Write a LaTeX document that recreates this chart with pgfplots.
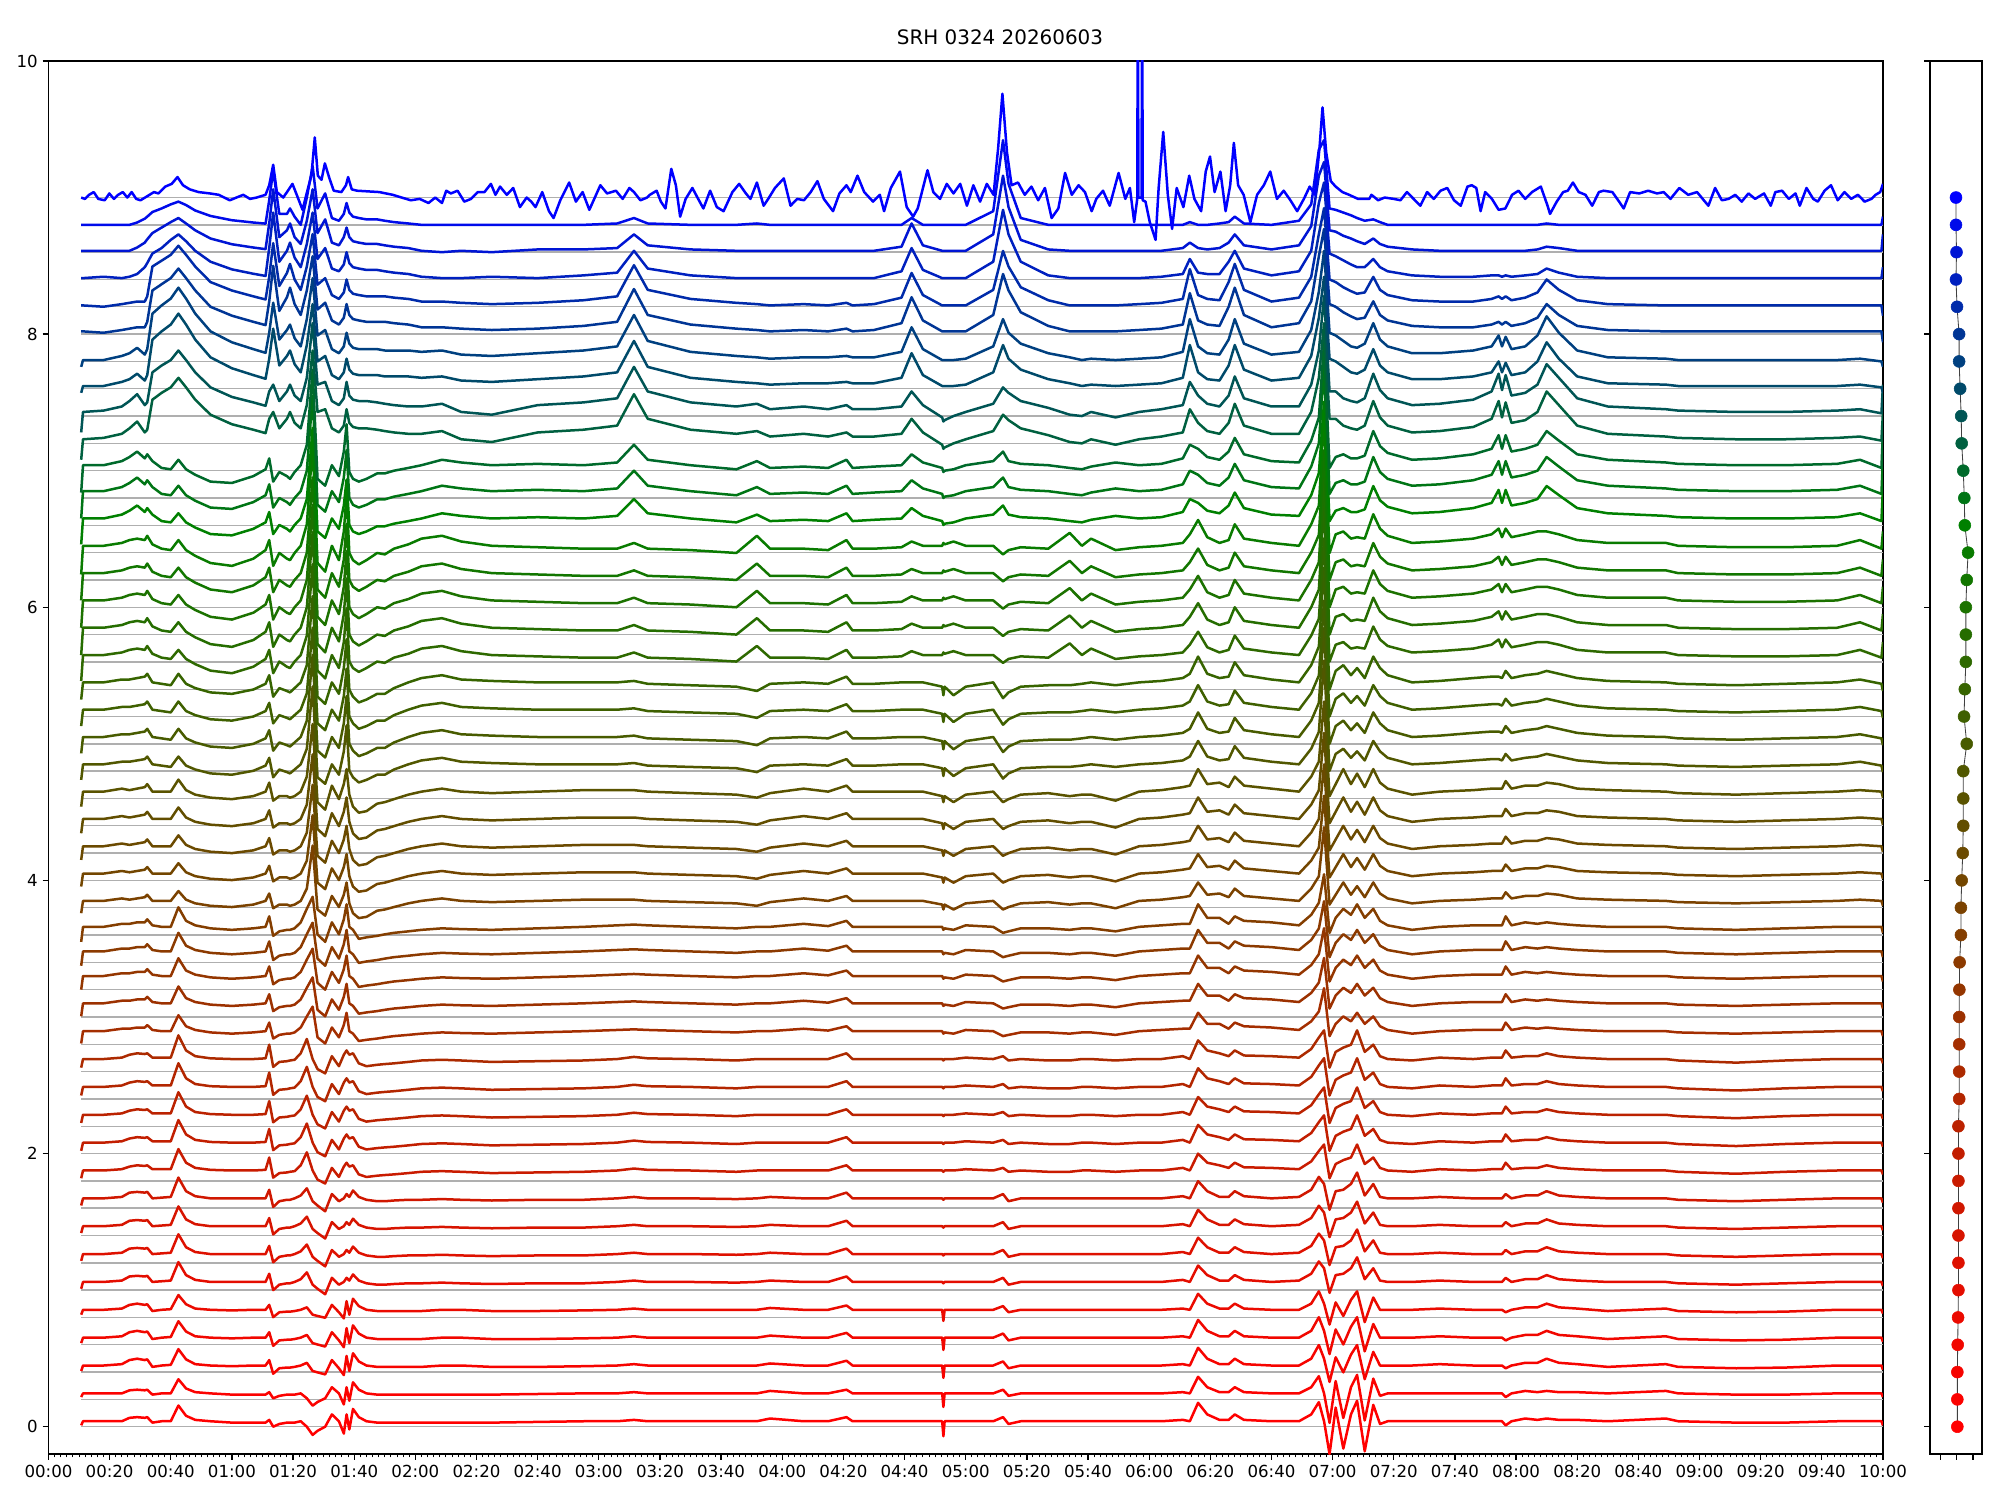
\documentclass[border=0pt]{standalone}
\usepackage{fontspec}
\setmainfont{DejaVu Sans}
\usepackage{pgfplots}
\pgfplotsset{compat=1.18}
\usepackage{pgfplotstable}

\definecolor{gridgray}{RGB}{175,175,175}
\definecolor{tc0}{rgb}{1,0,0}
\definecolor{tc1}{rgb}{0.985,0.008,0}
\definecolor{tc2}{rgb}{0.965,0.017,0}
\definecolor{tc3}{rgb}{0.944,0.028,0}
\definecolor{tc4}{rgb}{0.920,0.040,0}
\definecolor{tc5}{rgb}{0.896,0.052,0}
\definecolor{tc6}{rgb}{0.871,0.065,0}
\definecolor{tc7}{rgb}{0.844,0.078,0}
\definecolor{tc8}{rgb}{0.817,0.091,0}
\definecolor{tc9}{rgb}{0.790,0.105,0}
\definecolor{tc10}{rgb}{0.761,0.119,0}
\definecolor{tc11}{rgb}{0.732,0.134,0}
\definecolor{tc12}{rgb}{0.703,0.149,0}
\definecolor{tc13}{rgb}{0.673,0.163,0}
\definecolor{tc14}{rgb}{0.643,0.179,0}
\definecolor{tc15}{rgb}{0.612,0.194,0}
\definecolor{tc16}{rgb}{0.581,0.210,0}
\definecolor{tc17}{rgb}{0.549,0.226,0}
\definecolor{tc18}{rgb}{0.517,0.242,0}
\definecolor{tc19}{rgb}{0.484,0.258,0}
\definecolor{tc20}{rgb}{0.452,0.274,0}
\definecolor{tc21}{rgb}{0.419,0.291,0}
\definecolor{tc22}{rgb}{0.385,0.307,0}
\definecolor{tc23}{rgb}{0.352,0.324,0}
\definecolor{tc24}{rgb}{0.318,0.341,0}
\definecolor{tc25}{rgb}{0.283,0.358,0}
\definecolor{tc26}{rgb}{0.249,0.376,0}
\definecolor{tc27}{rgb}{0.214,0.393,0}
\definecolor{tc28}{rgb}{0.179,0.411,0}
\definecolor{tc29}{rgb}{0.144,0.428,0}
\definecolor{tc30}{rgb}{0.108,0.446,0}
\definecolor{tc31}{rgb}{0.072,0.464,0}
\definecolor{tc32}{rgb}{0.036,0.482,0}
\definecolor{tc33}{rgb}{0,0.5,0}
\definecolor{tc34}{rgb}{0,0.458,0.083}
\definecolor{tc35}{rgb}{0,0.417,0.167}
\definecolor{tc36}{rgb}{0,0.375,0.25}
\definecolor{tc37}{rgb}{0,0.333,0.333}
\definecolor{tc38}{rgb}{0,0.292,0.417}
\definecolor{tc39}{rgb}{0,0.25,0.5}
\definecolor{tc40}{rgb}{0,0.208,0.583}
\definecolor{tc41}{rgb}{0,0.167,0.667}
\definecolor{tc42}{rgb}{0,0.125,0.75}
\definecolor{tc43}{rgb}{0,0.083,0.833}
\definecolor{tc44}{rgb}{0,0.042,0.917}
\definecolor{tc45}{rgb}{0,0,1}

\pgfplotstableread{
t c0 c1 c2 c3 c4 c5 c6 c7 c8 c9 c10 c11 c12 c13 c14
10.7 -0.03 -0.04 -0.05 -0.06 -0.10 -0.10 -0.12 -0.20 -0.20 -0.15 -0.05 0 0 0 0
11.3 0 0 0 0 0 0 0 0 0 0 0 0 0 0 0
18 0 0 0 0 0 0 0 0 0 0.01 0 -0.01 0.01 0 0
24 0 0.01 0.01 0.01 0.02 0.02 0.02 0.02 0.03 0.04 0.03 0.01 0 0 0
26.5 0.025 0.04 0.04 0.03 0.02 0.01 0.02 0.04 0.06 0.08 0.05 0.02 0.01 0 0
29 0.03 0.05 0.045 0.04 0.03 0.02 0.03 0.05 0.10 0.13 0.09 0.03 0.03 0.024 0.017
31.5 0.025 0.04 0.04 0.035 0.03 0.03 0.04 0.04 0.05 0.05 0.04 0.03 0.08 0.06 0.045
32.3 0.03 0.045 0.045 0.04 0.05 0.05 0.06 0.07 0.08 0.07 0.08 0.07 0.11 0.084 0.06
34 -0.01 -0.01 0 0.01 0.01 0 0 0.01 0.03 0.29 0.34 0.30 0.18 0.13 0.094
37 0 0 0.005 0.01 0 0 -0.01 -0.02 -0.02 0.34 0.40 0.345 0.22 0.17 0.12
40 0 0.005 0.01 0.01 0 0 -0.02 -0.03 -0.03 0.38 0.45 0.39 0.28 0.21 0.15
42.5 0.115 0.12 0.145 0.165 0.13 0.08 0.06 0.04 0.04 0.45 0.53 0.46 0.32 0.24 0.17
45 0.04 0.045 0.05 0.06 0.04 0.01 -0.01 -0.03 -0.03 0.38 0.45 0.39 0.27 0.20 0.145
48 0.01 0.01 0.015 0.02 0.01 -0.02 -0.04 -0.07 -0.07 0.29 0.34 0.30 0.20 0.15 0.105
53 0 0 0 0.005 -0.01 -0.04 -0.07 -0.12 -0.12 0.18 0.21 0.18 0.12 0.09 0.065
60 -0.01 -0.005 0 0 -0.02 -0.05 -0.08 -0.14 -0.13 0.11 0.13 0.115 0.064 0.048 0.034
67 -0.01 0 0 0 -0.01 -0.03 -0.05 -0.09 -0.08 0.07 0.08 0.07 0.032 0.024 0.017
71 -0.01 0 0 0.005 0 0 -0.01 -0.03 -0.03 0.045 0.053 0.046 0.016 0.012 0.009
72.2 0.01 0.04 0.06 0.10 0.07 0.06 0.05 0.04 0.05 0.15 0.20 0.22 0.22 0.20 0.18
73.5 -0.04 -0.06 -0.06 -0.055 -0.06 -0.06 -0.10 -0.14 -0.12 0.20 0.42 0.48 0.48 0.45 0.40
75.5 -0.02 -0.02 -0.02 -0.02 -0.03 -0.03 -0.04 -0.05 -0.05 0.08 0.15 0.15 0.12 0.10 0.08
78 -0.01 -0.015 -0.01 -0.015 -0.02 -0.03 -0.06 -0.09 -0.08 0.15 0.22 0.25 0.20 0.15 0.08
79 -0.01 -0.015 -0.01 -0.01 -0.02 -0.04 -0.07 -0.10 -0.10 0.20 0.26 0.32 0.26 0.20 0.12
80.5 -0.01 -0.01 0 -0.005 -0.01 -0.03 -0.04 -0.05 -0.05 0.12 0.16 0.20 0.15 0.10 0.06
82.5 0 0 0.02 0.04 0.03 0 0 0 0 0.08 0.10 0.12 0.08 0.05 0
84.5 -0.04 0.02 0.07 0.14 0.12 0.10 0.12 0.15 0.15 0.25 0.30 0.30 0.25 0.22 0.20
86.4 -0.10 -0.04 -0.02 0 0.20 0.45 0.60 0.70 0.70 0.65 0.60 0.55 0.48 0.45 0.43
88 -0.07 -0.05 -0.05 -0.07 -0.05 -0.07 -0.10 -0.12 -0.10 0.20 0.18 0.16 0.14 0.13 0.12
90.5 -0.04 -0.065 -0.09 -0.10 -0.10 -0.12 -0.15 -0.18 -0.15 0.22 0.22 0.21 0.22 0.23 0.23
92.7 0.05 0.04 0.03 0.02 0.03 0.04 0 0 0 0.08 0.08 0.08 0.07 0.06 0.05
95 0 -0.02 -0.02 -0.05 -0.05 -0.05 -0.08 -0.10 -0.08 0.05 0.05 0.05 0.05 0.04 0.03
96.6 -0.09 -0.07 0 0.03 0.05 0.05 0.10 0.10 0.10 0.10 0.10 0.10 0.10 0.10 0.08
97.5 0.05 0.07 0.03 0.06 0.15 0.15 0.30 0.36 0.30 0.22 0.20 0.20 0.19 0.17 0.16
98.4 -0.06 -0.04 0.01 0.03 0 -0.02 -0.05 -0.05 -0.05 0.12 0.12 0.12 0.11 0.10 0.09
99.6 0.09 0.09 0.055 0.04 -0.02 -0.10 -0.10 -0.10 -0.10 0.09 0.09 0.09 0.08 0.07 0.06
101.5 0.03 0.03 0.01 -0.03 -0.08 -0.14 -0.14 -0.13 -0.12 0.08 0.08 0.08 0.07 0.06 0.05
104 0 0 -0.01 -0.05 -0.07 -0.13 -0.12 -0.10 -0.10 0.08 0.08 0.07 0.06 0.05 0.04
107.5 -0.01 -0.01 -0.02 -0.04 -0.06 -0.08 -0.08 -0.05 -0.06 0.07 0.08 0.07 0.06 0.05 0.04
110 -0.01 -0.01 -0.02 -0.035 -0.05 -0.07 -0.08 -0.06 -0.06 0.06 0.07 0.07 0.05 0.04 0.03
113 -0.01 -0.01 -0.015 -0.03 -0.04 -0.05 -0.04 -0.02 -0.04 0.05 0.07 0.06 0.04 0.03 0.02
117.7 -0.01 -0.01 -0.01 -0.02 -0.03 -0.02 0 0.01 -0.02 0.04 0.07 0.05 0.03 0.02 0.01
122 -0.01 -0.01 -0.01 -0.01 -0.02 0 0.03 0.05 0 0.04 0.06 0.03 0.01 0 0
128.7 -0.01 0 -0.005 -0.005 -0.01 0.02 0.05 0.07 0.04 0.06 0.07 0.03 0 -0.01 0
135 -0.01 0 -0.01 -0.01 -0.015 0 0.02 0.03 0.02 0 0.04 0.02 0 0 0
145 -0.01 -0.01 -0.015 -0.02 -0.02 -0.01 0.01 0 0 -0.02 0.03 0.01 0.01 -0.01 0
160 -0.005 -0.01 -0.01 -0.015 -0.01 0 0 -0.01 0.01 0.05 0.05 0.02 0 0.01 0
175 0 -0.005 -0.01 -0.01 0 0.01 0 -0.02 0 0.07 0.07 0.04 0.02 0.01 0
186 0 0 0 0 0.01 0.01 0 -0.02 0.02 0.10 0.10 0.07 0.04 0.02 0.01
191.5 0.01 0.01 0.01 0.015 0.015 0.01 0.01 0.02 0.15 0.33 0.33 0.31 0.20 0.12 0.05
196 0 0 0 0.005 0.01 0 -0.01 -0.02 0.04 0.15 0.14 0.12 0.07 0.04 0.01
210 0 0 0 0 0 -0.01 -0.02 -0.03 0 0.07 0.06 0.05 0.02 0.01 0
225 0 0 -0.005 -0.01 -0.01 -0.02 -0.03 -0.05 -0.03 0.04 0.03 0.02 0 0 0
231.7 0 0 0 0 0 -0.04 -0.06 0.07 0.03 0.06 0.02 0.01 0 0 0.01
236 0.02 0.015 0.01 0 0 -0.01 -0.01 -0.02 -0.02 0.02 0.01 0 0 0 0
247 0 0 0 0 0.02 0.02 0 -0.02 -0.01 0.04 0.02 0.01 0 0 0
255 0 0 0 0 0.005 0 -0.01 -0.03 -0.02 0.02 0.02 0 0 0 0
261 0.03 0.035 0.04 0.04 0.04 0.04 0.04 0.04 0.04 0.05 0.03 0.02 0 0 0
263 0 0 0 0 0 0 -0.01 -0.02 -0.02 0.02 0.02 0 0 0 0
270 0 0 0 0 0 0 -0.01 -0.02 -0.01 0.02 0.02 0.01 0 0 0
279 0 0 0 0 0 0 0 -0.01 0 0.04 0.06 0.06 0.05 0.03 0
282.3 0 0 0 0 0 0 0 0.03 0.08 0.15 0.24 0.25 0.22 0.20 0.05
286 0 0 0 0 0 0 0 0 0.02 0.05 0.08 0.08 0.06 0.04 0
292.3 0 0 0 0 0 -0.03 -0.03 0 -0.02 -0.04 0 0 0 0 0
292.7 -0.11 -0.09 -0.01 -0.01 -0.02 -0.07 -0.09 0.02 -0.05 -0.07 0 0 0 0 0
293.1 0 0 0 0 -0.01 -0.03 -0.03 0.01 -0.04 -0.06 0 0 0 0 0
296 0 0 0 0 -0.02 -0.07 -0.09 0.03 -0.03 -0.03 0 0 0 0 0
300 0 0 0 0.01 0.01 -0.02 -0.03 0 0 0 0.01 0 0 0 0
309 0 0 0 0 0 0 0 0 0.03 0.06 0.10 0.12 0.12 0.12 0.10
312.2 0.03 0.03 0.03 0.02 -0.04 -0.07 -0.11 -0.06 0.10 0.18 0.30 0.42 0.50 0.55 0.62
314 -0.02 -0.02 -0.02 -0.01 -0.03 -0.05 -0.07 -0.03 0.03 0.14 0.20 0.30 0.32 0.32 0.30
318 0 0 0 0 -0.01 -0.02 -0.03 -0.01 0.01 0.08 0.12 0.14 0.12 0.08 0.05
327 0 0 0 -0.01 -0.01 -0.01 -0.02 -0.02 0 0.03 0.05 0.04 0.02 0.01 0
334 0 0 0 -0.01 -0.02 -0.03 -0.02 0.09 -0.02 -0.02 0.02 0 0 0 0
338 0 0 0 0 -0.01 -0.02 -0.01 0 -0.03 -0.03 0 0 0 0 0
341 0 0 0 0 -0.01 -0.02 0 0.05 -0.01 0 0.01 0 0 0 0
349 0 0 0 -0.01 -0.03 -0.06 -0.02 -0.03 0.02 -0.04 0 0 0 0 0
356.7 0 0 0 0 0 0 0 -0.01 0 0 0.01 0.01 0 0 0
364 0 0 0 0 0.01 0.01 0.01 0 0.01 0.02 0.02 0.02 0.01 0 0
371 0.01 0.01 0.015 0.02 0.02 0.03 0.03 0.02 0.05 0.05 0.06 0.05 0.03 0.02 0
373.3 0 0 0 0 0.02 0.04 0.06 0.08 0.15 0.22 0.30 0.28 0.14 0.06 0.02
376 0.135 0.13 0.12 0.13 0.15 0.15 0.18 0.18 0.12 0.12 0.10 0.08 0.04 0.02 0
379 0.05 0.05 0.05 0.06 0.06 0.05 0.06 0.06 0.06 0.06 0.05 0.05 0.03 0.01 0
383 0.01 0.01 0.01 0.04 0.06 0.06 0.03 0.02 0.04 0.04 0.04 0.04 0.03 0.02 0.01
386 0.01 0.01 0.01 0.02 0.02 0.03 0.04 0.04 0.10 0.12 0.15 0.18 0.12 0.06 0.02
388 0.05 0.05 0.05 0.06 0.07 0.10 0.14 0.15 0.20 0.26 0.30 0.32 0.20 0.12 0.06
391 0.01 0.01 0.015 0.025 0.04 0.04 0.05 0.05 0.08 0.10 0.12 0.12 0.07 0.04 0.01
400 0 0 0 0.02 0.03 0.02 0.02 0.02 0.03 0.04 0.04 0.03 0.02 0.01 0
409 0 0 0.01 0.01 0.01 0 0 0 0.02 0.04 0.06 0.06 0.05 0.04 0.03
413 0.05 0.05 0.06 0.07 0.08 0.10 0.12 0.15 0.18 0.20 0.22 0.22 0.20 0.18 0.15
415.5 0.14 0.15 0.15 0.15 0.16 0.20 0.25 0.28 0.35 0.45 0.50 0.55 0.55 0.55 0.55
417.2 0 0.05 0.10 0.20 0.35 0.60 0.80 0.90 0.90 0.85 0.80 0.75 0.70 0.65 0.62
419 -0.24 -0.12 -0.08 -0.06 -0.04 -0.03 -0.05 -0.05 -0.02 0.15 0.20 0.20 0.18 0.15 0.12
421 0.10 0.06 0.05 0.05 0.06 0.05 0.08 0.08 0.06 0.15 0.18 0.18 0.16 0.14 0.11
423.5 -0.20 -0.05 0.06 0.08 0.12 0.15 0.12 0.10 0.08 0.10 0.14 0.14 0.13 0.11 0.09
426 0.05 0.08 0.10 0.10 0.08 0.05 0.05 0.05 0.05 0.08 0.10 0.11 0.10 0.09 0.07
428 0.15 0.15 0.18 0.20 0.15 0.12 0.10 0.06 0.05 0.07 0.09 0.09 0.08 0.07 0.05
430.5 -0.22 -0.10 0.02 0.05 0.06 0.03 0.03 0.05 0.07 0.10 0.12 0.10 0.08 0.05 0.03
433.3 0.12 0.10 0.10 0.10 0.12 0.15 0.18 0.22 0.25 0.28 0.27 0.22 0.14 0.09 0.04
435.5 -0.02 0 0.01 0.02 0.04 0.06 0.10 0.12 0.14 0.16 0.15 0.12 0.08 0.05 0.02
438 0 0 0 0 0.01 0.02 0.05 0.07 0.09 0.10 0.10 0.08 0.05 0.03 0
446 0 0 0 -0.01 -0.02 -0.02 0 0.02 0.04 0.05 0.05 0.04 0.02 0.01 0
455 0 0.01 0.01 0.01 0 0 0.01 0.03 0.05 0.06 0.05 0.03 0.01 0 0
466 0 0 0 0 0.01 0.01 0.03 0.05 0.08 0.09 0.07 0.03 0.01 0 0
472 0 0 0 0.01 0.01 0.02 0.04 0.08 0.12 0.15 0.10 0.05 0.02 0 0
474.3 0 0 0 0.01 0.01 0.02 0.04 0.12 0.22 0.28 0.18 0.07 0.02 0 0
475.4 0 0 0 0.01 0.01 0.02 0.03 0.06 0.12 0.16 0.10 0.05 0.01 0 0
476.6 -0.03 -0.02 0.03 0.06 0.07 0.07 0.08 0.12 0.22 0.27 0.17 0.07 0.02 0 0
478.5 0 0 0 0.01 0.01 0.02 0.03 0.06 0.10 0.12 0.08 0.04 0.01 0 0
483 0.02 0.02 0.02 0.02 0.03 0.04 0.05 0.08 0.12 0.14 0.10 0.06 0.02 0 0
487 0.01 0.02 0.02 0.02 0.02 0.04 0.06 0.10 0.15 0.20 0.18 0.10 0.03 0.01 0
490 0.02 0.05 0.05 0.04 0.03 0.06 0.08 0.10 0.25 0.35 0.32 0.20 0.07 0.03 0.01
494 0.01 0.02 0.02 0.02 0.02 0.05 0.06 0.08 0.18 0.25 0.20 0.12 0.04 0.02 0
500 0.01 0.01 0.01 0.01 0.01 0.02 0.03 0.04 0.08 0.10 0.07 0.04 0.01 0 0
510 0 -0.01 0 0 0 0.01 0.01 0.02 0.04 0.04 0.02 0.01 0 0 0
529 0.02 0.01 0 0 0 0 0 0.02 0.02 0.02 0.01 0 0 0 0
533 0 -0.01 -0.01 -0.01 -0.01 -0.01 -0.01 0 0.01 0.01 0 0 0 0 0
552 -0.01 -0.02 -0.02 -0.025 -0.02 -0.02 -0.02 -0.01 0 0 0 0 0 0 0
568 -0.01 -0.015 -0.01 -0.01 -0.01 -0.01 -0.01 -0.01 0 0 0 0 0 0 0
585 0 0 0 0 0 0 0 0 0.01 0.01 0 0 0 0 0
592.5 0 0 0 0 0 0.01 0.02 0.04 0.04 0.02 0.01 0 0 0 0
599.5 0 0 0 0 0 0 -0.01 -0.02 -0.02 -0.01 -0.01 0 0 0 0
600 -0.03 -0.03 -0.03 -0.03 -0.04 -0.04 -0.06 0.10 0.25 0.20 -0.05 -0.08 0.08 0.12 0.06
}\shapes

\begin{document}
\begin{tikzpicture}
\useasboundingbox (0,0) rectangle (1440bp,1080bp);
\begin{axis}[
  at={(34.9bp,33.1bp)}, anchor=south west,
  scale only axis, width=1320.9bp, height=1003bp,
  xmin=0, xmax=600, ymin=-0.2, ymax=10,
  xtick={0,20,...,600},
  xticklabels={00:00,00:20,00:40,01:00,01:20,01:40,02:00,02:20,02:40,03:00,03:20,03:40,04:00,04:20,04:40,05:00,05:20,05:40,06:00,06:20,06:40,07:00,07:20,07:40,08:00,08:20,08:40,09:00,09:20,09:40,10:00},
  minor x tick num=9,
  ytick={0,2,4,6,8,10},
  /pgf/number format/assume math mode=true,
  tick align=outside, tick pos=left,
  major tick length=4.2bp, minor tick length=2.4bp,
  every tick/.style={black, line width=0.96bp},
  minor tick style={line width=0.72bp},
  axis line style={line width=0.96bp},
  ticklabel style={font=\fontsize{12}{14}\selectfont},
  no markers,
  every axis plot/.append style={line join=round},
]
% horizontal reference lines
\addplot[gridgray, line width=1bp] coordinates {(10.7,0) (600,0)};
\addplot[gridgray, line width=1bp] coordinates {(10.7,0.2) (600,0.2)};
\addplot[gridgray, line width=1bp] coordinates {(10.7,0.4) (600,0.4)};
\addplot[gridgray, line width=1bp] coordinates {(10.7,0.6) (600,0.6)};
\addplot[gridgray, line width=1bp] coordinates {(10.7,0.8) (600,0.8)};
\addplot[gridgray, line width=1bp] coordinates {(10.7,1.0) (600,1.0)};
\addplot[gridgray, line width=1bp] coordinates {(10.7,1.2) (600,1.2)};
\addplot[gridgray, line width=1bp] coordinates {(10.7,1.4) (600,1.4)};
\addplot[gridgray, line width=1bp] coordinates {(10.7,1.6) (600,1.6)};
\addplot[gridgray, line width=1bp] coordinates {(10.7,1.8) (600,1.8)};
\addplot[gridgray, line width=1bp] coordinates {(10.7,2.0) (600,2.0)};
\addplot[gridgray, line width=1bp] coordinates {(10.7,2.2) (600,2.2)};
\addplot[gridgray, line width=1bp] coordinates {(10.7,2.4) (600,2.4)};
\addplot[gridgray, line width=1bp] coordinates {(10.7,2.6) (600,2.6)};
\addplot[gridgray, line width=1bp] coordinates {(10.7,2.8) (600,2.8)};
\addplot[gridgray, line width=1bp] coordinates {(10.7,3.0) (600,3.0)};
\addplot[gridgray, line width=1bp] coordinates {(10.7,3.2) (600,3.2)};
\addplot[gridgray, line width=1bp] coordinates {(10.7,3.4) (600,3.4)};
\addplot[gridgray, line width=1bp] coordinates {(10.7,3.6) (600,3.6)};
\addplot[gridgray, line width=1bp] coordinates {(10.7,3.8) (600,3.8)};
\addplot[gridgray, line width=1bp] coordinates {(10.7,4.0) (600,4.0)};
\addplot[gridgray, line width=1bp] coordinates {(10.7,4.2) (600,4.2)};
\addplot[gridgray, line width=1bp] coordinates {(10.7,4.4) (600,4.4)};
\addplot[gridgray, line width=1bp] coordinates {(10.7,4.6) (600,4.6)};
\addplot[gridgray, line width=1bp] coordinates {(10.7,4.8) (600,4.8)};
\addplot[gridgray, line width=1bp] coordinates {(10.7,5.0) (600,5.0)};
\addplot[gridgray, line width=1bp] coordinates {(10.7,5.2) (600,5.2)};
\addplot[gridgray, line width=1bp] coordinates {(10.7,5.4) (600,5.4)};
\addplot[gridgray, line width=1bp] coordinates {(10.7,5.6) (600,5.6)};
\addplot[gridgray, line width=1bp] coordinates {(10.7,5.8) (600,5.8)};
\addplot[gridgray, line width=1bp] coordinates {(10.7,6.0) (600,6.0)};
\addplot[gridgray, line width=1bp] coordinates {(10.7,6.2) (600,6.2)};
\addplot[gridgray, line width=1bp] coordinates {(10.7,6.4) (600,6.4)};
\addplot[gridgray, line width=1bp] coordinates {(10.7,6.6) (600,6.6)};
\addplot[gridgray, line width=1bp] coordinates {(10.7,6.8) (600,6.8)};
\addplot[gridgray, line width=1bp] coordinates {(10.7,7.0) (600,7.0)};
\addplot[gridgray, line width=1bp] coordinates {(10.7,7.2) (600,7.2)};
\addplot[gridgray, line width=1bp] coordinates {(10.7,7.4) (600,7.4)};
\addplot[gridgray, line width=1bp] coordinates {(10.7,7.6) (600,7.6)};
\addplot[gridgray, line width=1bp] coordinates {(10.7,7.8) (600,7.8)};
\addplot[gridgray, line width=1bp] coordinates {(10.7,8.0) (600,8.0)};
\addplot[gridgray, line width=1bp] coordinates {(10.7,8.2) (600,8.2)};
\addplot[gridgray, line width=1bp] coordinates {(10.7,8.4) (600,8.4)};
\addplot[gridgray, line width=1bp] coordinates {(10.7,8.6) (600,8.6)};
\addplot[gridgray, line width=1bp] coordinates {(10.7,8.8) (600,8.8)};
\addplot[gridgray, line width=1bp] coordinates {(10.7,9.0) (600,9.0)};
% traces
\addplot[tc0, line width=1.8bp] table[x=t, y expr=\thisrow{c0}*1.0+0.04] {\shapes};
\addplot[tc1, line width=1.8bp] table[x=t, y expr=\thisrow{c0}*0.9+0.244] {\shapes};
\addplot[tc2, line width=1.8bp] table[x=t, y expr=\thisrow{c1}*1.0+0.448] {\shapes};
\addplot[tc3, line width=1.8bp] table[x=t, y expr=\thisrow{c1}*1.0+0.652] {\shapes};
\addplot[tc4, line width=1.8bp] table[x=t, y expr=\thisrow{c1}*0.9+0.856] {\shapes};
\addplot[tc5, line width=1.8bp] table[x=t, y expr=\thisrow{c2}*1.0+1.06] {\shapes};
\addplot[tc6, line width=1.8bp] table[x=t, y expr=\thisrow{c2}*1.0+1.264] {\shapes};
\addplot[tc7, line width=1.8bp] table[x=t, y expr=\thisrow{c2}*1.0+1.468] {\shapes};
\addplot[tc8, line width=1.8bp] table[x=t, y expr=\thisrow{c2}*1.05+1.672] {\shapes};
\addplot[tc9, line width=1.8bp] table[x=t, y expr=\thisrow{c3}*0.95+1.876] {\shapes};
\addplot[tc10, line width=1.8bp] table[x=t, y expr=\thisrow{c3}*1.0+2.08] {\shapes};
\addplot[tc11, line width=1.8bp] table[x=t, y expr=\thisrow{c3}*1.0+2.284] {\shapes};
\addplot[tc12, line width=1.8bp] table[x=t, y expr=\thisrow{c3}*1.05+2.488] {\shapes};
\addplot[tc13, line width=1.8bp] table[x=t, y expr=\thisrow{c3}*1.05+2.692] {\shapes};
\addplot[tc14, line width=1.8bp] table[x=t, y expr=\thisrow{c4}*0.9+2.896] {\shapes};
\addplot[tc15, line width=1.8bp] table[x=t, y expr=\thisrow{c4}*0.95+3.10] {\shapes};
\addplot[tc16, line width=1.8bp] table[x=t, y expr=\thisrow{c4}*1.0+3.30] {\shapes};
\addplot[tc17, line width=1.8bp] table[x=t, y expr=\thisrow{c4}*1.05+3.48] {\shapes};
\addplot[tc18, line width=1.8bp] table[x=t, y expr=\thisrow{c4}*1.1+3.66] {\shapes};
\addplot[tc19, line width=1.8bp] table[x=t, y expr=\thisrow{c5}*0.9+3.85] {\shapes};
\addplot[tc20, line width=1.8bp] table[x=t, y expr=\thisrow{c5}*0.95+4.05] {\shapes};
\addplot[tc21, line width=1.8bp] table[x=t, y expr=\thisrow{c5}*1.0+4.25] {\shapes};
\addplot[tc22, line width=1.8bp] table[x=t, y expr=\thisrow{c5}*1.05+4.45] {\shapes};
\addplot[tc23, line width=1.8bp] table[x=t, y expr=\thisrow{c5}*1.1+4.65] {\shapes};
\addplot[tc24, line width=1.8bp] table[x=t, y expr=\thisrow{c6}*0.95+4.85] {\shapes};
\addplot[tc25, line width=1.8bp] table[x=t, y expr=\thisrow{c6}*1.0+5.05] {\shapes};
\addplot[tc26, line width=1.8bp] table[x=t, y expr=\thisrow{c6}*1.0+5.25] {\shapes};
\addplot[tc27, line width=1.8bp] table[x=t, y expr=\thisrow{c6}*1.05+5.45] {\shapes};
\addplot[tc28, line width=1.8bp] table[x=t, y expr=\thisrow{c7}*0.95+5.65] {\shapes};
\addplot[tc29, line width=1.8bp] table[x=t, y expr=\thisrow{c7}*1.0+5.85] {\shapes};
\addplot[tc30, line width=1.8bp] table[x=t, y expr=\thisrow{c7}*1.0+6.05] {\shapes};
\addplot[tc31, line width=1.8bp] table[x=t, y expr=\thisrow{c7}*1.0+6.25] {\shapes};
\addplot[tc32, line width=1.8bp] table[x=t, y expr=\thisrow{c7}*1.05+6.45] {\shapes};
\addplot[tc33, line width=1.8bp] table[x=t, y expr=\thisrow{c8}*0.95+6.65] {\shapes};
\addplot[tc34, line width=1.8bp] table[x=t, y expr=\thisrow{c8}*1.0+6.85] {\shapes};
\addplot[tc35, line width=1.8bp] table[x=t, y expr=\thisrow{c8}*1.0+7.04] {\shapes};
\addplot[tc36, line width=1.8bp] table[x=t, y expr=\thisrow{c9}*1.0+7.23] {\shapes};
\addplot[tc37, line width=1.8bp] table[x=t, y expr=\thisrow{c9}*1.0+7.43] {\shapes};
\addplot[tc38, line width=1.8bp] table[x=t, y expr=\thisrow{c10}*1.0+7.62] {\shapes};
\addplot[tc39, line width=1.8bp] table[x=t, y expr=\thisrow{c10}*1.0+7.81] {\shapes};
\addplot[tc40, line width=1.8bp] table[x=t, y expr=\thisrow{c11}*1.0+8.02] {\shapes};
\addplot[tc41, line width=1.8bp] table[x=t, y expr=\thisrow{c11}*0.95+8.21] {\shapes};
\addplot[tc42, line width=1.8bp] table[x=t, y expr=\thisrow{c12}*1.0+8.41] {\shapes};
\addplot[tc43, line width=1.8bp] table[x=t, y expr=\thisrow{c13}*1.0+8.61] {\shapes};
\addplot[tc44, line width=1.8bp] table[x=t, y expr=\thisrow{c14}*1.0+8.80] {\shapes};
% top trace (9.0)
\addplot[tc45, line width=1.8bp] coordinates {
(10.7,9.00)(11.9,8.99)(13.3,9.02)(14.8,9.04)(16.3,8.99)(18.4,8.98)(19.9,9.03)(21.4,8.99)(22.8,9.02)(24.3,9.04)
(25.8,9.00)(27.2,9.04)(28.7,8.99)(30.1,8.98)(31.6,9.00)(34.5,9.04)(36.0,9.03)(38.2,9.08)(40.3,9.10)(42.2,9.15)
(44.0,9.09)(46.2,9.06)(49.1,9.04)(52.8,9.03)(55.7,9.02)(59.3,8.98)(61.5,9.00)(63.7,9.02)(65.9,8.99)(68.1,9.00)
(71.0,9.02)(72.2,9.09)(73.5,9.24)(74.7,9.04)(76.8,9.00)(79.8,9.10)(81.2,9.02)(83.1,8.91)(84.9,9.07)(86.0,9.16)
(87.1,9.44)(88.1,9.16)(89.3,9.13)(90.4,9.25)(91.9,9.14)(93.3,9.05)(95.8,9.04)(97.3,9.09)(98.0,9.15)(99.2,9.06)
(100.9,9.05)(108.2,9.04)(112.6,9.02)(115.5,9.00)(118.5,8.98)(121.4,8.99)(124.3,8.96)(126.5,9.00)(128.7,8.96)(130.1,9.05)
(131.6,9.03)(133.8,9.05)(136.0,8.97)(138.2,8.99)(140.4,9.04)(142.6,9.04)(144.7,9.10)(146.2,9.02)(147.7,9.08)(149.9,9.02)
(152.0,9.07)(154.2,8.93)(156.4,9.00)(157.9,8.97)(159.3,8.93)(161.5,9.04)(163.7,8.90)(165.2,8.85)(167.4,8.98)(170.3,9.11)
(172.5,8.97)(174.7,9.04)(176.9,8.91)(179.1,9.02)(180.5,9.09)(182.7,9.03)(185.6,9.05)(187.8,8.99)(190.0,9.07)(191.5,9.04)
(193.6,8.98)(195.8,9.00)(196.7,9.02)(198.9,9.05)(200.3,8.97)(201.8,8.92)(203.7,9.21)(205.2,9.09)(206.6,8.86)(208.4,8.99)
(210.6,9.07)(212.5,8.99)(214.2,8.92)(216.4,9.05)(218.6,8.93)(220.8,8.90)(223.7,9.04)(225.9,9.10)(228.1,9.03)(229.6,8.99)
(231.7,9.11)(233.9,8.94)(235.4,8.99)(237.6,9.07)(240.5,9.14)(242.7,8.94)(244.9,8.99)(247.1,8.98)(249.3,9.04)(251.5,9.12)
(253.6,8.99)(256.6,8.90)(258.7,9.03)(261.0,9.09)(262.4,9.04)(264.6,9.16)(266.8,9.04)(269.7,8.97)(271.9,9.02)(273.3,8.90)
(275.5,9.07)(278.5,9.19)(280.7,8.93)(282.8,8.86)(284.3,8.92)(287.5,9.20)(289.4,9.04)(291.6,8.99)(293.8,9.10)(296.0,9.03)
(298.2,9.10)(300.4,8.94)(302.5,9.09)(304.7,8.97)(306.9,9.10)(309.1,9.02)(310.6,9.36)(312.0,9.76)(313.5,9.33)(315.0,9.09)
(317.1,9.11)(319.3,9.02)(321.5,9.08)(323.7,8.98)(325.9,9.07)(328.1,8.85)(330.3,8.92)(332.5,9.18)(334.7,9.02)(336.9,9.09)
(339.0,9.04)(341.2,8.90)(342.7,8.99)(344.9,9.05)(347.1,8.94)(350.0,9.18)(352.2,8.99)(353.7,9.07)(355.1,8.82)(356.1,8.99)
(356.3,10.6)(356.5,9.00)(357.5,9.00)(357.7,10.6)(357.9,8.98)(358.8,8.97)(360.2,8.82)(362.1,8.69)(363.1,9.07)(364.6,9.48)
(366.1,9.02)(367.5,8.77)(369.0,9.07)(371.2,8.93)(373.1,9.16)(374.8,8.99)(377.0,8.90)(378.5,9.19)(379.9,9.30)(381.4,9.04)
(383.3,9.19)(385.0,8.90)(386.5,9.09)(387.7,9.40)(389.1,9.09)(390.9,9.02)(393.1,8.82)(395.3,9.02)(397.5,9.09)(399.6,9.19)
(401.8,8.99)(404.0,9.05)(406.2,8.98)(408.4,8.90)(410.6,8.99)(412.5,9.08)(414.2,9.02)(415.7,9.36)(416.7,9.66)(417.9,9.33)
(419.4,9.12)(421.0,9.08)(423.2,9.04)(425.4,9.02)(428.3,8.99)(432.0,8.99)(432.7,9.02)(434.9,8.98)(437.0,9.00)(440.0,8.99)
(442.2,8.98)(444.3,9.04)(446.5,8.99)(448.7,8.94)(450.9,9.04)(453.1,8.99)(455.3,9.05)(457.5,9.07)(459.7,8.98)(461.9,8.94)
(464.1,9.08)(465.5,9.09)(467.0,9.07)(468.4,8.90)(469.9,9.04)(472.1,8.99)(474.3,8.91)(476.5,8.92)(478.7,9.02)(480.8,9.05)
(483.0,8.99)(485.2,9.04)(488.1,9.08)(490.3,8.94)(491.1,8.88)(493.3,8.97)(495.4,9.04)(496.9,9.05)(498.6,9.11)(500.5,9.04)
(502.7,9.02)(504.9,8.94)(507.1,9.04)(508.6,9.05)(511.5,9.04)(513.7,8.97)(515.2,8.92)(517.3,9.04)(520.3,9.03)(523.2,9.05)
(526.1,9.03)(528.3,9.04)(530.5,8.99)(533.4,9.07)(536.3,9.02)(539.2,9.04)(541.4,8.98)(542.9,8.94)(545.1,9.07)(547.3,8.98)
(549.5,8.99)(551.7,9.02)(553.8,8.97)(556.0,9.03)(558.2,8.99)(561.1,9.03)(563.3,8.94)(564.8,9.04)(567.0,9.05)(569.2,8.99)
(571.4,9.03)(572.8,8.94)(575.0,9.07)(577.2,8.99)(578.7,8.97)(580.9,9.05)(583.0,9.09)(585.2,8.98)(587.4,9.04)(589.6,8.99)
(591.8,9.02)(594.0,8.97)(596.2,8.99)(597.6,9.02)(599.1,9.04)(600,9.10)
};
\end{axis}

% right panel
\begin{axis}[
  at={(1389.6bp,33.1bp)}, anchor=south west,
  scale only axis, width=37.4bp, height=1003bp,
  xmin=0, xmax=1, ymin=-0.2, ymax=10,
  xtick={0.2,0.515,0.825}, xticklabels={},
  ytick={0,2,4,6,8,10}, yticklabels={},
  tick align=outside, tick pos=left,
  major tick length=4.2bp,
  every tick/.style={black, line width=0.96bp},
  axis line style={line width=0.96bp},
]
\addplot[only marks, mark=*, mark size=4.3bp, tc0] coordinates {(0.526,0)};
\addplot[only marks, mark=*, mark size=4.3bp, tc1] coordinates {(0.526,0.2)};
\addplot[only marks, mark=*, mark size=4.3bp, tc2] coordinates {(0.526,0.4)};
\addplot[only marks, mark=*, mark size=4.3bp, tc3] coordinates {(0.533,0.6)};
\addplot[only marks, mark=*, mark size=4.3bp, tc4] coordinates {(0.54,0.8)};
\addplot[only marks, mark=*, mark size=4.3bp, tc5] coordinates {(0.547,1.0)};
\addplot[only marks, mark=*, mark size=4.3bp, tc6] coordinates {(0.547,1.2)};
\addplot[only marks, mark=*, mark size=4.3bp, tc7] coordinates {(0.547,1.4)};
\addplot[only marks, mark=*, mark size=4.3bp, tc8] coordinates {(0.547,1.6)};
\addplot[only marks, mark=*, mark size=4.3bp, tc9] coordinates {(0.547,1.8)};
\addplot[only marks, mark=*, mark size=4.3bp, tc10] coordinates {(0.547,2.0)};
\addplot[only marks, mark=*, mark size=4.3bp, tc11] coordinates {(0.547,2.2)};
\addplot[only marks, mark=*, mark size=4.3bp, tc12] coordinates {(0.562,2.4)};
\addplot[only marks, mark=*, mark size=4.3bp, tc13] coordinates {(0.562,2.6)};
\addplot[only marks, mark=*, mark size=4.3bp, tc14] coordinates {(0.562,2.8)};
\addplot[only marks, mark=*, mark size=4.3bp, tc15] coordinates {(0.562,3.0)};
\addplot[only marks, mark=*, mark size=4.3bp, tc16] coordinates {(0.565,3.2)};
\addplot[only marks, mark=*, mark size=4.3bp, tc17] coordinates {(0.57,3.4)};
\addplot[only marks, mark=*, mark size=4.3bp, tc18] coordinates {(0.595,3.6)};
\addplot[only marks, mark=*, mark size=4.3bp, tc19] coordinates {(0.595,3.8)};
\addplot[only marks, mark=*, mark size=4.3bp, tc20] coordinates {(0.61,4.0)};
\addplot[only marks, mark=*, mark size=4.3bp, tc21] coordinates {(0.63,4.2)};
\addplot[only marks, mark=*, mark size=4.3bp, tc22] coordinates {(0.64,4.4)};
\addplot[only marks, mark=*, mark size=4.3bp, tc23] coordinates {(0.64,4.6)};
\addplot[only marks, mark=*, mark size=4.3bp, tc24] coordinates {(0.64,4.8)};
\addplot[only marks, mark=*, mark size=4.3bp, tc25] coordinates {(0.707,5.0)};
\addplot[only marks, mark=*, mark size=4.3bp, tc26] coordinates {(0.655,5.2)};
\addplot[only marks, mark=*, mark size=4.3bp, tc27] coordinates {(0.67,5.4)};
\addplot[only marks, mark=*, mark size=4.3bp, tc28] coordinates {(0.69,5.6)};
\addplot[only marks, mark=*, mark size=4.3bp, tc29] coordinates {(0.69,5.8)};
\addplot[only marks, mark=*, mark size=4.3bp, tc30] coordinates {(0.69,6.0)};
\addplot[only marks, mark=*, mark size=4.3bp, tc31] coordinates {(0.707,6.2)};
\addplot[only marks, mark=*, mark size=4.3bp, tc32] coordinates {(0.733,6.4)};
\addplot[only marks, mark=*, mark size=4.3bp, tc33] coordinates {(0.67,6.6)};
\addplot[only marks, mark=*, mark size=4.3bp, tc34] coordinates {(0.66,6.8)};
\addplot[only marks, mark=*, mark size=4.3bp, tc35] coordinates {(0.64,7.0)};
\addplot[only marks, mark=*, mark size=4.3bp, tc36] coordinates {(0.61,7.2)};
\addplot[only marks, mark=*, mark size=4.3bp, tc37] coordinates {(0.60,7.4)};
\addplot[only marks, mark=*, mark size=4.3bp, tc38] coordinates {(0.58,7.6)};
\addplot[only marks, mark=*, mark size=4.3bp, tc39] coordinates {(0.56,7.8)};
\addplot[only marks, mark=*, mark size=4.3bp, tc40] coordinates {(0.56,8.0)};
\addplot[only marks, mark=*, mark size=4.3bp, tc41] coordinates {(0.52,8.2)};
\addplot[only marks, mark=*, mark size=4.3bp, tc42] coordinates {(0.50,8.4)};
\addplot[only marks, mark=*, mark size=4.3bp, tc43] coordinates {(0.51,8.6)};
\addplot[only marks, mark=*, mark size=4.3bp, tc44] coordinates {(0.50,8.8)};
\addplot[only marks, mark=*, mark size=4.3bp, tc45] coordinates {(0.50,9.0)};
\addplot[black!75, line width=0.6bp, no markers] coordinates {
(0.526,0)(0.526,0.2)(0.526,0.4)(0.533,0.6)(0.54,0.8)(0.547,1.0)(0.547,1.2)(0.547,1.4)(0.547,1.6)(0.547,1.8)
(0.547,2.0)(0.547,2.2)(0.562,2.4)(0.562,2.6)(0.562,2.8)(0.562,3.0)(0.565,3.2)(0.57,3.4)(0.595,3.6)(0.595,3.8)
(0.61,4.0)(0.63,4.2)(0.64,4.4)(0.64,4.6)(0.64,4.8)(0.707,5.0)(0.655,5.2)(0.67,5.4)(0.69,5.6)(0.69,5.8)
(0.69,6.0)(0.707,6.2)(0.733,6.4)(0.67,6.6)(0.66,6.8)(0.64,7.0)(0.61,7.2)(0.60,7.4)(0.58,7.6)(0.56,7.8)
(0.56,8.0)(0.52,8.2)(0.50,8.4)(0.51,8.6)(0.50,8.8)(0.50,9.0)};
\end{axis}

\node[anchor=base, font=\fontsize{14.4}{17}\selectfont] at (720bp,1047.6bp) {SRH 0324 20260603};
\end{tikzpicture}
\end{document}
